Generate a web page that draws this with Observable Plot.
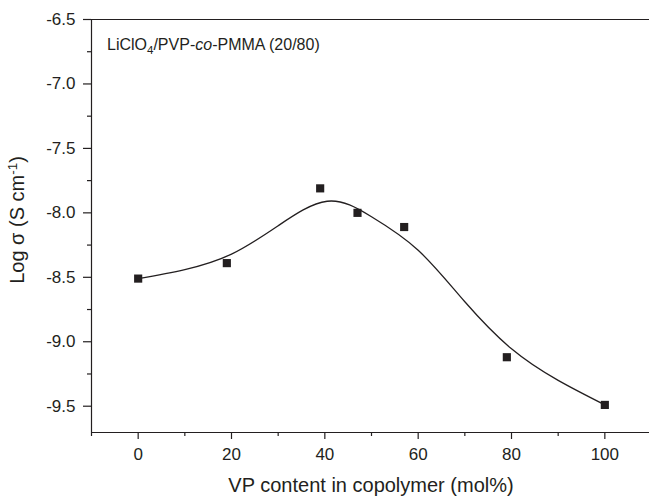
<!DOCTYPE html>
<html>
<head>
<meta charset="utf-8">
<script src="https://cdn.jsdelivr.net/npm/d3@7"></script>
<script src="https://cdn.jsdelivr.net/npm/@observablehq/plot@0.6"></script>
<style>
  html, body { margin: 0; padding: 0; background: #fff; }
  #chart svg { display: block; }
</style>
</head>
<body>
<div id="chart"></div>
<script>
// Measured data points
const vpContent = [0, 19, 39, 47, 57, 79, 100];
const logSigma = [-8.51, -8.39, -7.81, -8.00, -8.11, -9.12, -9.49];

// Fitted curve
const curveX = [0, 10, 20, 30, 40.5, 50, 60, 70, 80, 90, 100];
const curveY = [-8.51, -8.44, -8.32, -8.10, -7.91, -8.03, -8.29, -8.69, -9.055, -9.30, -9.49];

// Ticks
const xMajor = [0, 20, 40, 60, 80, 100];
const xMinor = [-10, 10, 30, 50, 70, 90];
const yMajor = [-9.5, -9.0, -8.5, -8.0, -7.5, -7.0, -6.5];
const yMinor = [-9.25, -8.75, -8.25, -7.75, -7.25, -6.75];

const xDomain = [-10, 109.57];
const yDomain = [-9.704, -6.5];

const points = vpContent.map((x, i) => ({x, y: logSigma[i]}));
const curve = curveX.map((x, i) => ({x, y: curveY[i]}));

const ink = "#231f20";
const font = "'Liberation Sans', Arial, Helvetica, sans-serif";

const chart = Plot.plot({
  width: 649,
  height: 497,
  marginLeft: 91,
  marginRight: 0,
  marginTop: 19,
  marginBottom: 65,
  style: {fontFamily: font, fontSize: "17px", color: ink, background: "#fff", overflow: "visible"},
  x: {domain: xDomain},
  y: {domain: yDomain},
  marks: [
    Plot.ruleX([xDomain[0]], {stroke: ink, strokeWidth: 1.2}),
    Plot.ruleY(yDomain, {stroke: ink, strokeWidth: 1.2}),
    Plot.axisX({ticks: xMajor, tickSize: 7, tickPadding: 8, tickFormat: d => String(d), fontSize: 17, stroke: ink, strokeWidth: 1.2, label: null}),
    Plot.axisX({ticks: xMinor, tickSize: 4, text: null, stroke: ink, strokeWidth: 1.2, label: null}),
    Plot.axisY({ticks: yMajor, tickSize: 8, tickPadding: 8, tickFormat: d => d.toFixed(1), fontSize: 17, stroke: ink, strokeWidth: 1.2, label: null}),
    Plot.axisY({ticks: yMinor, tickSize: 4, text: null, stroke: ink, strokeWidth: 1.2, label: null}),
    Plot.line(curve, {x: "x", y: "y", curve: "natural", stroke: ink, strokeWidth: 1.3}),
    Plot.dot(points, {x: "x", y: "y", symbol: "square", r: 4.6, fill: ink, stroke: "none"})
  ]
});

document.getElementById("chart").appendChild(chart);

const svg = d3.select(chart);

// Inset annotation
const t = svg.append("text")
  .attr("x", 107).attr("y", 50)
  .attr("text-anchor", "start")
  .attr("font-family", font).attr("font-size", 16).attr("fill", ink);
t.append("tspan").text("LiClO");
t.append("tspan").attr("font-size", 11.5).attr("dy", 4).text("4");
t.append("tspan").attr("dy", -4).text("/PVP-");
t.append("tspan").attr("font-style", "italic").text("co");
t.append("tspan").text("-PMMA (20/80)");

// X label
svg.append("text")
  .attr("x", 371).attr("y", 492)
  .attr("text-anchor", "middle")
  .attr("font-family", font).attr("font-size", 20).attr("fill", ink)
  .text("VP content in copolymer (mol%)");

// Y label
const yl = svg.append("text")
  .attr("transform", "translate(24,220) rotate(-90)")
  .attr("text-anchor", "middle")
  .attr("font-family", font).attr("font-size", 20).attr("fill", ink);
yl.append("tspan").text("Log σ (S cm");
yl.append("tspan").attr("font-size", 13.5).attr("dy", -7).text("-1");
yl.append("tspan").attr("dy", 7).text(")");
</script>
</body>
</html>
